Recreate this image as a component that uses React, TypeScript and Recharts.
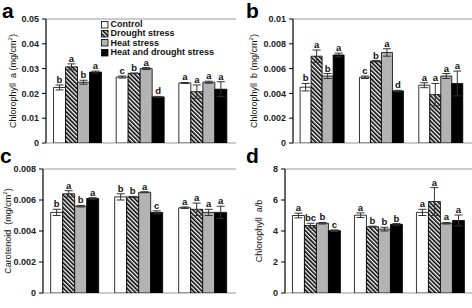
import React from 'react';
import { BarChart, Bar, XAxis, YAxis, ErrorBar, LabelList, ReferenceArea, Legend } from 'recharts';

const FF = "Arial, 'Liberation Sans', Helvetica, sans-serif";

const categories = ['Arvento', 'LA1994', 'LA2093'];
const treatments = ['Control', 'Drought stress', 'Heat stress', 'Heat and drought stress'];
const seriesKeys = ['c', 'd', 'h', 'hd'];

// Panel a: Chlorophyll a
const chlAMean = [
  [0.0224, 0.0266, 0.0242],
  [0.0307, 0.0281, 0.0207],
  [0.0245, 0.03, 0.0245],
  [0.0286, 0.0186, 0.0217],
];
const chlAErr = [
  [0.001, 0.0004, 0.0002],
  [0.0012, 0.0001, 0.0027],
  [0.0008, 0.0004, 0.0004],
  [0.0004, 0.0002, 0.003],
];
const chlALetters = [['b', 'c', 'a'], ['a', 'b', 'a'], ['b', 'a', 'a'], ['a', 'd', 'a']];
const chlATicks = [0, 0.01, 0.02, 0.03, 0.04, 0.05];

// Panel b: Chlorophyll b
const chlBMean = [
  [0.0045, 0.0053, 0.00466],
  [0.007, 0.0066, 0.0039],
  [0.0054, 0.0073, 0.0054],
  [0.0071, 0.0042, 0.0048],
];
const chlBErr = [
  [0.0003, 0.0001, 0.0002],
  [0.0005, 0.00005, 0.0009],
  [0.0002, 0.0003, 0.0002],
  [0.00015, 0.00005, 0.001],
];
const chlBLetters = [['b', 'c', 'a'], ['a', 'b', 'a'], ['b', 'a', 'a'], ['a', 'd', 'a']];
const chlBTicks = [0, 0.002, 0.004, 0.006, 0.008, 0.01];

// Panel c: Carotenoid
const carMean = [
  [0.0052, 0.0062, 0.0055],
  [0.0064, 0.0062, 0.0054],
  [0.0056, 0.0065, 0.0052],
  [0.0061, 0.0052, 0.0052],
];
const carErr = [
  [0.0002, 0.0002, 0.00005],
  [0.0002, 0.00003, 0.0004],
  [0.00005, 0.00003, 0.0002],
  [0.00005, 0.0001, 0.0004],
];
const carLetters = [['b', 'b', 'a'], ['a', 'b', 'a'], ['b', 'a', 'a'], ['a', 'c', 'a']];
const carTicks = [0, 0.002, 0.004, 0.006, 0.008];

// Panel d: Chlorophyll a/b
const ratioMean = [
  [5.0, 5.02, 5.2],
  [4.35, 4.28, 5.9],
  [4.5, 4.12, 4.5],
  [4.02, 4.43, 4.68],
];
const ratioErr = [
  [0.15, 0.15, 0.2],
  [0.15, 0.03, 0.9],
  [0.05, 0.12, 0.05],
  [0.05, 0.05, 0.35],
];
const ratioLetters = [['a', 'a', 'a'], ['bc', 'b', 'a'], ['b', 'b', 'a'], ['c', 'b', 'a']];
const ratioTicks = [0, 2, 4, 6, 8];

const buildRows = (mean: number[][], err: number[][]) =>
  categories.map((cat, i) => {
    const row: any = { cat };
    seriesKeys.forEach((k, s) => {
      row[k] = mean[s][i];
      row[k + 'E'] = err[s][i];
    });
    return row;
  });

const HatchDef = ({ id }: { id: string }) => (
  <pattern id={id} patternUnits="userSpaceOnUse" width={3} height={3} patternTransform="rotate(-45)">
    <rect width={3} height={3} fill="#fff" />
    <rect width={1.6} height={3} fill="#000" />
  </pattern>
);

const fillFor = (s: number, hatchId: string) =>
  s === 0 ? '#ffffff' : s === 1 ? `url(#${hatchId})` : s === 2 ? '#b3b3b3' : '#000000';

const LegendBox = () => (
  <div style={{ fontFamily: FF, fontSize: 9, lineHeight: '9.4px', fontWeight: 'bold', color: '#111' }}>
    {treatments.map((t, s) => (
      <div key={t} style={{ display: 'flex', alignItems: 'center', height: 9.4, whiteSpace: 'nowrap' }}>
        <svg width={8} height={8} style={{ marginRight: 1.5, flex: 'none' }}>
          <defs>
            <HatchDef id="legend-hatch" />
          </defs>
          <rect x={0.5} y={0.5} width={6.5} height={6.5} fill={fillFor(s, 'legend-hatch')} stroke="#000" strokeWidth={0.8} />
        </svg>
        <span>{t}</span>
      </div>
    ))}
  </div>
);

const BoundaryTick = (props: any) => {
  const { x, y, payload, showLabels } = props;
  const v = payload.value;
  if (Number.isInteger(v)) return <line x1={x} x2={x} y1={y} y2={y + 4} stroke="#000" strokeWidth={1} />;
  if (!showLabels) return <g />;
  return (
    <text x={x} y={y + 12} textAnchor="middle" fontFamily={FF} fontSize={10} fontWeight="bold" fill="#111">
      {categories[Math.floor(v)]}
    </text>
  );
};

type Title = { pre: string; sup?: string; post?: string };

type PanelProps = {
  id: string;
  left: number;
  top: number;
  mean: number[][];
  err: number[][];
  letters: string[][];
  ticks: number[];
  title: Title;
  titleX: number;
  marginLeft: number;
  marginRight: number;
  marginTop: number;
  axisHeight: number;
  showLabels: boolean;
  showLegend?: boolean;
};

const Panel = (p: PanelProps) => {
  const data = buildRows(p.mean, p.err);
  const hatchId = `hatch-${p.id}`;
  const maxY = p.ticks[p.ticks.length - 1];

  const titleFn = (lp: any) => {
    const vb = lp.viewBox || {};
    const cx = p.titleX;
    const cy = vb.y + vb.height / 2;
    return (
      <text
        x={cx}
        y={cy}
        transform={`rotate(-90 ${cx} ${cy})`}
        textAnchor="middle"
        dominantBaseline="central"
        fontFamily={FF}
        fontSize={9}
        fill="#111"
        style={{ whiteSpace: 'pre' }}
      >
        {p.title.pre}
        {p.title.sup ? (
          <tspan dy={-3} fontSize={6}>
            {p.title.sup}
          </tspan>
        ) : null}
        {p.title.post ? <tspan dy={p.title.sup ? 3 : 0}>{p.title.post}</tspan> : null}
      </text>
    );
  };

  const letterLabel = (s: number) => (lp: any) => {
    const vb = lp.viewBox && lp.viewBox.x !== undefined ? lp.viewBox : lp;
    const { x, y, width, height } = vb;
    const idx = lp.index;
    const value = p.mean[s][idx];
    const px = value ? (p.err[s][idx] * height) / value : 0;
    return (
      <text x={x + width / 2} y={y - px - 2} textAnchor="middle" fontFamily={FF} fontSize={9.5} fontWeight="bold" fill="#111">
        {p.letters[s][idx]}
      </text>
    );
  };

  return (
    <div style={{ position: 'absolute', left: p.left, top: p.top, width: 236, height: 154 }}>
      <BarChart
        width={236}
        height={154}
        data={data}
        margin={{ top: p.marginTop, right: p.marginRight, bottom: 0, left: p.marginLeft }}
        barCategoryGap="12%"
        barGap={0}
      >
        <defs>
          <HatchDef id={hatchId} />
        </defs>
        <XAxis xAxisId="cat" dataKey="cat" hide />
        <XAxis
          xAxisId="num"
          type="number"
          domain={[0, 3]}
          ticks={[0, 0.5, 1, 1.5, 2, 2.5, 3]}
          interval={0}
          allowDataOverflow
          tickSize={0}
          tickMargin={0}
          tickLine={false}
          axisLine={{ stroke: '#000', strokeWidth: 1 }}
          height={p.axisHeight}
          tick={(tp: any) => <BoundaryTick {...tp} showLabels={p.showLabels} />}
        />
        <YAxis
          type="number"
          domain={[0, maxY]}
          ticks={p.ticks}
          interval={0}
          allowDataOverflow
          width={36}
          tickSize={4}
          tickMargin={3}
          tick={{ fontSize: 9, fontWeight: 'bold', fill: '#222', fontFamily: FF }}
          axisLine={{ stroke: '#000', strokeWidth: 1 }}
          tickLine={{ stroke: '#000', strokeWidth: 1 }}
          label={titleFn}
        />
        <ReferenceArea xAxisId="num" x1={0} x2={3} y1={0} y2={maxY} fill="none" stroke="#999" strokeWidth={1} ifOverflow="visible" />
        {seriesKeys.map((k, s) => (
          <Bar
            key={k}
            xAxisId="cat"
            dataKey={k}
            name={treatments[s]}
            fill={fillFor(s, hatchId)}
            stroke="#000"
            strokeWidth={0.8}
            isAnimationActive={false}
          >
            <ErrorBar dataKey={k + 'E'} width={4} stroke="#333" strokeWidth={1} direction="y" isAnimationActive={false} />
            <LabelList dataKey={k} content={letterLabel(s)} />
          </Bar>
        ))}
        {p.showLegend ? (
          <Legend
            layout="vertical"
            align="center"
            verticalAlign="middle"
            content={() => <LegendBox />}
            wrapperStyle={{ left: 101, top: 20, width: 120, height: 38 }}
          />
        ) : null}
      </BarChart>
    </div>
  );
};

const letterStyle = (left: number, top: number): React.CSSProperties => ({
  position: 'absolute',
  left,
  top,
  fontFamily: FF,
  fontWeight: 'bold',
  fontSize: 21,
  lineHeight: '20px',
  color: '#000',
});

export default function App() {
  return (
    <div style={{ position: 'absolute', left: 0, top: 0, width: 472, height: 308, background: '#fff', overflow: 'hidden' }}>
      <Panel
        id="a"
        left={0}
        top={0}
        mean={chlAMean}
        err={chlAErr}
        letters={chlALetters}
        ticks={chlATicks}
        title={{ pre: 'Chlorophyll  a (mg/cm', sup: '2', post: ')' }}
        titleX={13}
        marginLeft={10}
        marginRight={2}
        marginTop={19}
        axisHeight={11}
        showLabels={false}
        showLegend
      />
      <Panel
        id="b"
        left={236}
        top={0}
        mean={chlBMean}
        err={chlBErr}
        letters={chlBLetters}
        ticks={chlBTicks}
        title={{ pre: 'Chlorophyll  b (mg/cm', sup: '2', post: ')' }}
        titleX={18}
        marginLeft={21}
        marginRight={1}
        marginTop={19}
        axisHeight={11}
        showLabels={false}
      />
      <Panel
        id="c"
        left={0}
        top={154}
        mean={carMean}
        err={carErr}
        letters={carLetters}
        ticks={carTicks}
        title={{ pre: 'Carotenoid  (mg/cm', sup: '2', post: ')' }}
        titleX={8}
        marginLeft={7}
        marginRight={1}
        marginTop={15}
        axisHeight={15}
        showLabels
      />
      <Panel
        id="d"
        left={236}
        top={154}
        mean={ratioMean}
        err={ratioErr}
        letters={ratioLetters}
        ticks={ratioTicks}
        title={{ pre: 'Chlorophyll  a/b' }}
        titleX={23}
        marginLeft={13}
        marginRight={1}
        marginTop={15}
        axisHeight={15}
        showLabels
      />
      <div style={letterStyle(2, 1)}>a</div>
      <div style={letterStyle(246, 1)}>b</div>
      <div style={letterStyle(0, 146)}>c</div>
      <div style={letterStyle(246, 146)}>d</div>
    </div>
  );
}
